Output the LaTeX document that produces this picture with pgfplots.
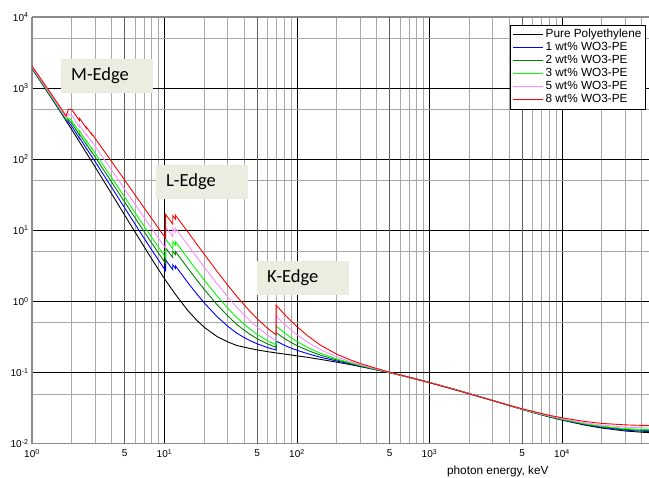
\documentclass[border=0pt]{standalone}
\usepackage{pgfplots}
\pgfplotsset{compat=1.18}
\usepackage{pgfplotstable}
\usepackage{fontspec}
\setmainfont{Liberation Sans}
\newfontfamily\calibri{Carlito}
\definecolor{cblue}{RGB}{0,0,255}
\definecolor{cdkgreen}{RGB}{0,128,0}
\definecolor{cgreen}{RGB}{0,255,0}
\definecolor{cpink}{RGB}{255,140,255}
\definecolor{cred}{RGB}{255,0,0}
\definecolor{edgebg}{RGB}{235,237,224}
\pgfplotsset{longline/.style={legend image code/.code={\draw[##1] (0bp,0bp) -- (30bp,0bp);}}}

\pgfplotstableread{
E mu
1 1894
1.5 599.9
1.8092 347.4
1.84014 330.6
1.8716 314.7
2 259.3
2.281 175.2
2.4235 146.3
2.5749 122.1
2.6945 106.7
2.8196 93.14
3 77.43
4 32.42
5 16.43
6 9.435
8 3.975
10 2.087
12 1.283
15 0.745
17.5 0.546
20 0.4316
25 0.320
30 0.2707
35 0.241
40 0.2275
45 0.217
50 0.2084
60 0.1969
80 0.1823
90 0.1769
100 0.1719
120 0.1640
150 0.1534
200 0.1401
250 0.1300
300 0.1216
400 0.1089
500 0.0994
600 0.0920
800 0.0808
1000 0.0726
1500 0.0591
2000 0.0506
3000 0.0405
4000 0.0344
5000 0.0304
6000 0.0276
8000 0.0238
10000 0.0215
15000 0.0182
20000 0.0166
30000 0.0151
40000 0.0145
50000 0.0141
}\tpe

\pgfplotstableread{
E mu
1 1913.8
1.5 610.1
1.8092 354.6
1.8092 356.4
1.84014 344.3
1.8716 336.3
1.8716 338.4
2 289.2
2.281 196.9
2.281 200.4
2.4235 168.1
2.5749 141.0
2.5749 142.2
2.6945 124.8
2.8196 109.4
2.8196 110.1
3 92.19
4 39.87
5 20.75
6 12.19
8 5.311
10 2.847
10.2068 2.702
10.2068 3.824
10.8548 3.273
11.544 2.800
11.544 3.284
11.8186 3.100
12.0998 2.927
12.0998 3.166
15 1.841
17.5 1.280
20 0.9503
25 0.6085
30 0.4490
35 0.3594
40 0.3104
45 0.2774
50 0.2539
60 0.2248
69.525 0.2080
69.525 0.2768
80 0.2428
90 0.2214
100 0.2057
120 0.1848
150 0.1647
200 0.1452
250 0.1328
300 0.1232
400 0.1095
500 0.0997
600 0.0921
800 0.0808
1000 0.0725
1500 0.0590
2000 0.0505
3000 0.0405
4000 0.0344
5000 0.0305
6000 0.0277
8000 0.0240
10000 0.0217
15000 0.0185
20000 0.0169
30000 0.0155
40000 0.0150
50000 0.0146
}\tone

\pgfplotstableread{
E mu
1 1933.5
1.5 620.4
1.8092 361.8
1.8092 365.3
1.84014 357.9
1.8716 357.9
1.8716 362.1
2 319.2
2.281 218.5
2.281 225.7
2.4235 190.0
2.5749 159.8
2.5749 162.3
2.6945 142.9
2.8196 125.7
2.8196 127.1
3 106.9
4 47.33
5 25.08
6 14.94
8 6.647
10 3.607
10.2068 3.424
10.2068 5.666
10.8548 4.851
11.544 4.151
11.544 5.119
11.8186 4.834
12.0998 4.567
12.0998 5.046
15 2.936
17.5 2.014
20 1.469
25 0.897
30 0.6273
35 0.4778
40 0.3933
45 0.3379
50 0.2995
60 0.2526
69.525 0.2267
69.525 0.3644
80 0.3032
90 0.2659
100 0.2395
120 0.2056
150 0.1760
200 0.1503
250 0.1355
300 0.1247
400 0.1102
500 0.1000
600 0.0922
800 0.0808
1000 0.0725
1500 0.0589
2000 0.0505
3000 0.0405
4000 0.0345
5000 0.0306
6000 0.0278
8000 0.0241
10000 0.0219
15000 0.0188
20000 0.0173
30000 0.0159
40000 0.0154
50000 0.0151
}\ttwo

\pgfplotstableread{
E mu
1 1953.3
1.5 630.6
1.8092 369.0
1.8092 374.3
1.84014 371.6
1.8716 379.5
1.8716 385.9
2 349.1
2.281 240.2
2.281 250.9
2.4235 211.8
2.5749 178.7
2.5749 182.4
2.6945 161.0
2.8196 142.0
2.8196 144.2
3 121.7
4 54.78
5 29.40
6 17.69
8 7.983
10 4.367
10.2068 4.145
10.2068 7.509
10.8548 6.429
11.544 5.503
11.544 6.954
11.8186 6.569
12.0998 6.208
12.0998 6.926
15 4.032
17.5 2.748
20 1.988
25 1.186
30 0.8056
35 0.5962
40 0.4761
45 0.3983
50 0.3450
60 0.2805
69.525 0.2455
69.525 0.4519
80 0.3637
90 0.3105
100 0.2733
120 0.2264
150 0.1873
200 0.1553
250 0.1383
300 0.1263
400 0.1108
500 0.1002
600 0.0923
800 0.0807
1000 0.0724
1500 0.0588
2000 0.0504
3000 0.0405
4000 0.0345
5000 0.0306
6000 0.0279
8000 0.0243
10000 0.0221
15000 0.0190
20000 0.0176
30000 0.0163
40000 0.0159
50000 0.0156
}\tthree

\pgfplotstableread{
E mu
1 1992.8
1.5 651.1
1.8092 383.5
1.8092 392.2
1.84014 398.9
1.8716 422.6
1.8716 433.3
2 409.0
2.281 283.5
2.281 301.4
2.4235 255.5
2.5749 216.4
2.5749 222.5
2.6945 197.2
2.8196 174.6
2.8196 178.2
3 151.2
4 69.69
5 38.05
6 23.19
8 10.66
10 5.887
10.2068 5.588
10.2068 11.19
10.8548 9.585
11.544 8.205
11.544 10.62
11.8186 10.04
12.0998 9.489
12.0998 10.69
15 6.223
17.5 4.216
20 3.025
25 1.763
30 1.162
35 0.833
40 0.6419
45 0.5192
50 0.4361
60 0.3363
69.525 0.2829
69.525 0.6270
80 0.4846
90 0.3995
100 0.3409
120 0.2680
150 0.2098
200 0.1655
250 0.1438
300 0.1295
400 0.1121
500 0.1008
600 0.0926
800 0.0807
1000 0.0723
1500 0.0587
2000 0.0503
3000 0.0405
4000 0.0346
5000 0.0308
6000 0.0282
8000 0.0246
10000 0.0225
15000 0.0196
20000 0.0183
30000 0.0171
40000 0.0168
50000 0.0165
}\tfive

\pgfplotstableread{
E mu
1 2052.1
1.5 681.8
1.8092 405.1
1.8092 419.0
1.84014 439.9
1.8716 487.4
1.8716 504.5
2 498.9
2.281 348.5
2.281 377.1
2.4235 321.0
2.5749 273.0
2.5749 282.8
2.6945 251.4
2.8196 223.5
2.8196 229.2
3 195.5
4 92.04
5 51.01
6 31.44
8 14.66
10 8.166
10.2068 7.752
10.2068 16.72
10.8548 14.32
11.544 12.26
11.544 16.13
11.8186 15.24
12.0998 14.41
12.0998 16.33
15 9.509
17.5 6.417
20 4.581
25 2.628
30 1.697
35 1.188
40 0.8905
45 0.7005
50 0.5727
60 0.4199
69.525 0.3391
69.525 0.8895
80 0.6660
90 0.5331
100 0.4422
120 0.3303
150 0.2437
200 0.1807
250 0.1521
300 0.1342
400 0.1140
500 0.1016
600 0.0929
800 0.0806
1000 0.0720
1500 0.0584
2000 0.0501
3000 0.0404
4000 0.0347
5000 0.0310
6000 0.0285
8000 0.0251
10000 0.0231
15000 0.0205
20000 0.0193
30000 0.0184
40000 0.0181
50000 0.0180
}\teight

\begin{document}
\begin{tikzpicture}
\begin{axis}[
  scale only axis, width=617bp, height=426.7bp,
  xmode=log, ymode=log,
  xmin=1, xmax=45360, ymin=0.01, ymax=10000,
  axis x line*=box, axis y line*=left,
  axis line style={draw=black!45, line width=1.3bp},
  xtick={1,10,100,1000,10000},
  xticklabels={10\textsuperscript{0},10\textsuperscript{1},10\textsuperscript{2},10\textsuperscript{3},10\textsuperscript{4}},
  extra x ticks={5,50,500,5000},
  extra x tick labels={5,5,5,5},
  extra x tick style={grid=major, major grid style={black!62, line width=0.9bp}},
  minor xtick={2,3,4,6,7,8,9,20,30,40,60,70,80,90,200,300,400,600,700,800,900,2000,3000,4000,6000,7000,8000,9000,20000,30000,40000},
  ytick={0.01,0.1,1,10,100,1000,10000},
  yticklabels={10\textsuperscript{-2},10\textsuperscript{-1},10\textsuperscript{0},10\textsuperscript{1},10\textsuperscript{2},10\textsuperscript{3},10\textsuperscript{4}},
  minor ytick={0.05,0.5,5,50,500,5000},
  grid=both,
  major grid style={black, line width=0.8bp},
  minor grid style={black!34, line width=0.8bp},
  major tick length=0pt, minor tick length=0pt,
  tick label style={font=\fontsize{10bp}{12bp}\selectfont},
  xticklabel style={yshift=-2bp},
  clip mode=individual,
  legend cell align=left,
  legend style={at={(axis description cs:0.995,0.982)}, anchor=north east,
    draw=black, line width=0.6bp, fill=white,
    font=\fontsize{11.8bp}{13bp}\selectfont,
    inner xsep=2bp, inner ysep=3.4bp, row sep=0pt,
    nodes={inner xsep=2.2bp, inner ysep=1.1bp, text height=8.2bp, text depth=2.5bp}},
]
\addplot[black, line width=0.9bp, longline] table[x=E,y=mu]{\tpe};
\addlegendentry{Pure Polyethylene}
\addplot[cblue, line width=0.9bp, longline] table[x=E,y=mu]{\tone};
\addlegendentry{1 wt\% WO3-PE}
\addplot[cdkgreen, line width=0.9bp, longline] table[x=E,y=mu]{\ttwo};
\addlegendentry{2 wt\% WO3-PE}
\addplot[cgreen, line width=0.9bp, longline] table[x=E,y=mu]{\tthree};
\addlegendentry{3 wt\% WO3-PE}
\addplot[cpink, line width=0.9bp, longline] table[x=E,y=mu]{\tfive};
\addlegendentry{5 wt\% WO3-PE}
\addplot[cred, line width=0.9bp, longline] table[x=E,y=mu]{\teight};
\addlegendentry{8 wt\% WO3-PE}

\node[fill=edgebg, anchor=west, inner xsep=10bp, inner ysep=0pt, text width=72bp, minimum height=34bp, align=left, font=\calibri\fontsize{18.5bp}{20bp}\selectfont] at (axis cs:1.655,1479) {M-Edge};
\node[fill=edgebg, anchor=west, inner xsep=10bp, inner ysep=0pt, text width=72bp, minimum height=34bp, align=left, font=\calibri\fontsize{18.5bp}{20bp}\selectfont] at (axis cs:8.63,47.8) {L-Edge};
\node[fill=edgebg, anchor=west, inner xsep=10bp, inner ysep=0pt, text width=72bp, minimum height=34bp, align=left, font=\calibri\fontsize{18.5bp}{20bp}\selectfont] at (axis cs:49.9,2.168) {K-Edge};

\node[font=\fontsize{11.8bp}{13bp}\selectfont] at ([yshift=-27.5bp]rel axis cs:0.755,0) {photon energy, keV};
\coordinate (SW) at (rel axis cs:0,0);
\coordinate (NE) at (rel axis cs:1,1);
\end{axis}
\pgfresetboundingbox
\path ([xshift=-32bp,yshift=-34.3bp]SW) rectangle ([yshift=17bp]NE);
\end{tikzpicture}
\end{document}
